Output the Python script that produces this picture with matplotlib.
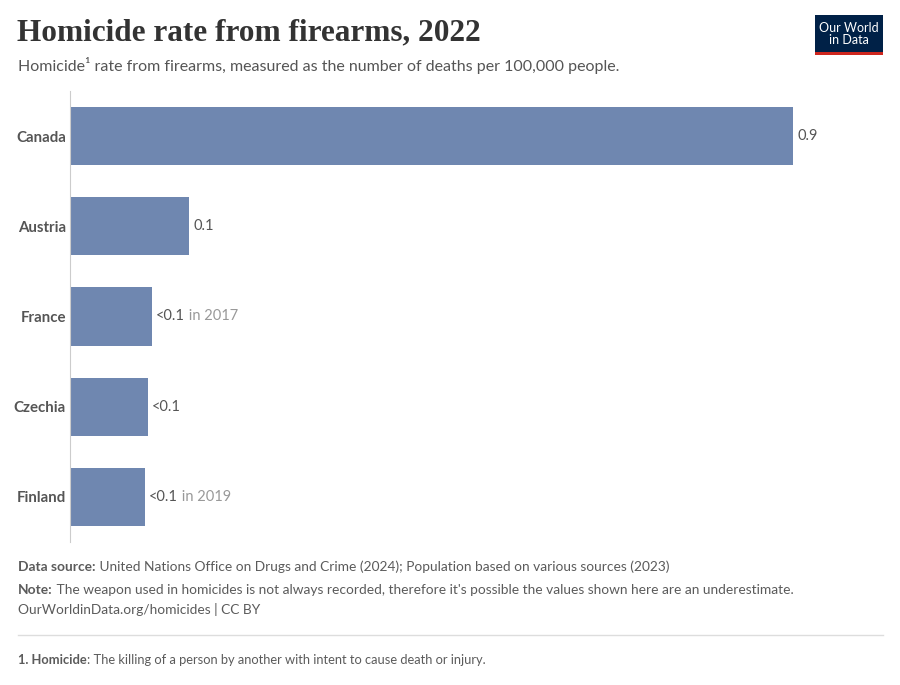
import matplotlib
matplotlib.use('Agg')
import matplotlib.pyplot as plt
from matplotlib.patches import Rectangle

countries = ['Canada', 'Austria', 'France', 'Czechia', 'Finland']
rates = [0.88, 0.145, 0.1, 0.095, 0.091]
labels = ['0.9', '0.1', '<0.1', '<0.1', '<0.1']
years = ['', '', ' in 2017', '', ' in 2019']

W, H = 900, 685
fig = plt.figure(figsize=(9, 6.85), dpi=100)
plt.rcParams['font.family'] = ['Lato', 'DejaVu Sans']

def px(x, y):
    return x / W, 1 - y / H

ax = fig.add_axes([70 / W, 1 - 542 / H, 813 / W, 451 / H])
ypos = list(range(len(countries)))
ax.barh(ypos, rates, height=0.645, color='#6f87b0')
ax.set_ylim(4.5, -0.5)
ax.set_xlim(0, 0.88 * 813 / 723)
ax.set_yticks(ypos)
ax.set_yticklabels(countries, fontsize=10.8, fontweight='bold', color='#555555')
ax.tick_params(axis='y', length=0, pad=3)
ax.set_xticks([])
for s in ['top', 'right', 'bottom']:
    ax.spines[s].set_visible(False)
ax.spines['left'].set_color('#cccccc')

for i in range(len(countries)):
    t = ax.annotate(labels[i], (rates[i], i), xytext=(3, 0), textcoords='offset points',
                    va='center', ha='left', fontsize=10.5, color='#555555')
    if years[i]:
        ax.annotate(years[i], xy=(1, 0.5), xycoords=t, va='center', ha='left',
                    fontsize=10.5, color='#999999')

# header
fig.text(*px(17, 33), 'Homicide rate from firearms, 2022', fontsize=22.5, fontweight='bold',
         family=['Liberation Serif', 'DejaVu Serif'], color='#333333', va='center')
fig.text(*px(18, 66), 'Homicide\u00b9 rate from firearms, measured as the number of deaths per 100,000 people.',
         fontsize=11.5, color='#555555', va='center')

# logo
x0, y0 = px(815, 55)
fig.patches.append(Rectangle((x0, y0), 68 / W, 40 / H, transform=fig.transFigure,
                             facecolor='#002147', edgecolor='none'))
fig.patches.append(Rectangle((x0, y0), 68 / W, 3 / H, transform=fig.transFigure,
                             facecolor='#ce261e', edgecolor='none'))
fig.text(*px(849, 34), 'Our World\nin Data', fontsize=9, color='white', ha='center', va='center',
         linespacing=1.0)

# footer
fs = 9.9
grey = '#5b5b5b'
t = fig.text(*px(18, 567), 'Data source:', fontsize=fs, fontweight='bold', color=grey, va='center')
ax.annotate(' United Nations Office on Drugs and Crime (2024); Population based on various sources (2023)',
            xy=(1, 0.5), xycoords=t, va='center', ha='left', fontsize=fs, color=grey,
            annotation_clip=False)
t2 = fig.text(*px(18, 590), 'Note:', fontsize=fs, fontweight='bold', color=grey, va='center')
ax.annotate(" The weapon used in homicides is not always recorded, therefore it's possible the values shown here are an underestimate.",
            xy=(1, 0.5), xycoords=t2, va='center', ha='left', fontsize=fs, color=grey,
            annotation_clip=False)
fig.text(*px(18, 610), 'OurWorldinData.org/homicides | CC BY', fontsize=fs, color=grey, va='center')
fig.add_artist(plt.Line2D([18 / W, 883 / W], [1 - 635 / H] * 2, color='#dddddd', lw=1,
                          transform=fig.transFigure))
t3 = fig.text(*px(18, 660), '1. Homicide', fontsize=9.3, fontweight='bold', color=grey, va='center')
ax.annotate(': The killing of a person by another with intent to cause death or injury.',
            xy=(1, 0.5), xycoords=t3, va='center', ha='left', fontsize=9.3, color=grey,
            annotation_clip=False)

fig.savefig('out.png', dpi=100)
